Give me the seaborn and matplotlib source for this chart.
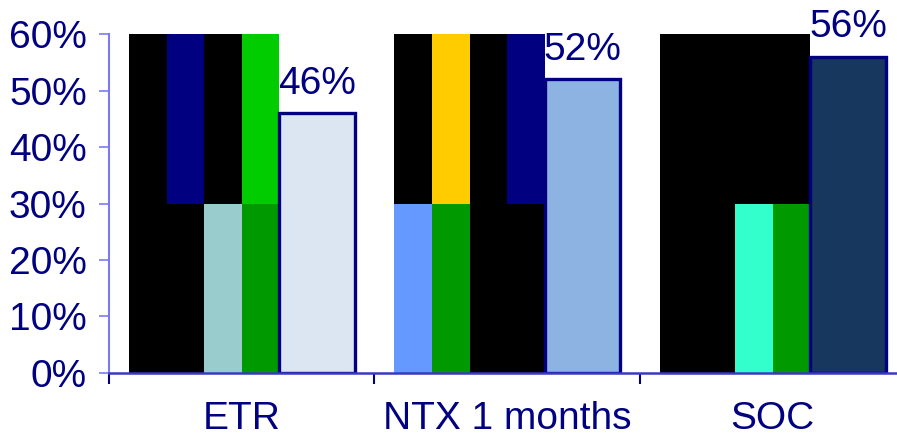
import numpy as np
import pandas as pd
import matplotlib
matplotlib.use("Agg")
import matplotlib.pyplot as plt
import seaborn as sns

# ---- data ----
categories = ["ETR", "NTX 1 months", "SOC"]
values = [46, 52, 56]
bar_fill = ["#DCE6F2", "#8DB3E2", "#17375E"]

# picture-filled columns: 4 stripes per category, lower half (0-30%) and upper half (30-60%)
block_split = 30
block_top = 60
block_lower_colors = [
    ["#000000", "#000000", "#99CCCC", "#009900"],
    ["#6699FF", "#009900", "#000000", "#000000"],
    ["#000000", "#000000", "#33FFCC", "#009900"],
]
block_upper_colors = [
    ["#000000", "#000080", "#000000", "#00CC00"],
    ["#000000", "#FFCC00", "#000000", "#000080"],
    ["#000000", "#000000", "#000000", "#000000"],
]
yticks = [0, 10, 20, 30, 40, 50, 60]

NAVY = "#000080"

sns.set_style("white")
plt.rcParams["font.family"] = ["Liberation Sans", "DejaVu Sans"]

fig = plt.figure(figsize=(8.97, 4.36), dpi=100)
ax = fig.add_axes([0.1215, 0.1445, 0.888, 0.7775])

group_w = 0.85
slot_w = group_w / 3
stripe_w = slot_w / 2
n = len(categories)

# stripes positions
stripe_pos = []
for i in range(n):
    for k in range(4):
        stripe_pos.append(i - group_w / 2 + (k + 0.5) * stripe_w)
stripe_pos = np.array(stripe_pos)
upper_cols = [c for row in block_upper_colors for c in row]
lower_cols = [c for row in block_lower_colors for c in row]
ids = np.arange(len(stripe_pos))

df_up = pd.DataFrame({"x": stripe_pos, "y": [block_top] * len(ids), "id": ids})
df_lo = pd.DataFrame({"x": stripe_pos, "y": [block_split] * len(ids), "id": ids})

sns.barplot(data=df_up, x="x", y="y", hue="id", palette=upper_cols,
            native_scale=True, dodge=False, width=1.0, saturation=1,
            legend=False, linewidth=0, ax=ax, errorbar=None)
sns.barplot(data=df_lo, x="x", y="y", hue="id", palette=lower_cols,
            native_scale=True, dodge=False, width=1.0, saturation=1,
            legend=False, linewidth=0, ax=ax, errorbar=None)

# main bars
main_pos = np.arange(n) + group_w / 2 - slot_w / 2
df_main = pd.DataFrame({"x": main_pos, "y": values, "cat": categories})
sns.barplot(data=df_main, x="x", y="y", hue="cat", palette=bar_fill,
            native_scale=True, dodge=False, width=slot_w, saturation=1,
            legend=False, edgecolor=NAVY, linewidth=2.4, ax=ax, errorbar=None)

for x, v in zip(main_pos, values):
    ax.annotate(f"{v}%", (x, v), xytext=(0, 8), textcoords="offset points",
                ha="center", va="bottom", fontsize=28, color=NAVY)

ax.set_xlim(-0.5, n - 0.5)
ax.set_ylim(0, 60)
ax.set_yticks(yticks)
ax.set_yticklabels([f"{t}%" for t in yticks])
ax.set_xticks(np.arange(n + 1) - 0.5)
ax.set_xticklabels([])
ax.set_xticks(np.arange(n), minor=True)
ax.set_xticklabels(categories, minor=True)
ax.tick_params(axis="x", which="major", length=8, width=1.5, color=NAVY, direction="out", bottom=True)
ax.tick_params(axis="x", which="minor", length=0, pad=20, labelsize=28, labelcolor=NAVY)
ax.tick_params(axis="y", length=7, width=1.2, color="#7B7BF0", direction="out", left=True,
               pad=9, labelsize=28, labelcolor=NAVY)
ax.set_xlabel("")
ax.set_ylabel("")

for s in ["top", "right"]:
    ax.spines[s].set_visible(False)
ax.spines["left"].set_color("#7B7BF0")
ax.spines["left"].set_linewidth(1.5)
ax.spines["bottom"].set_color("#3A3AC0")
ax.spines["bottom"].set_linewidth(1.8)
ax.grid(False)

fig.savefig("out.png", dpi=100)
